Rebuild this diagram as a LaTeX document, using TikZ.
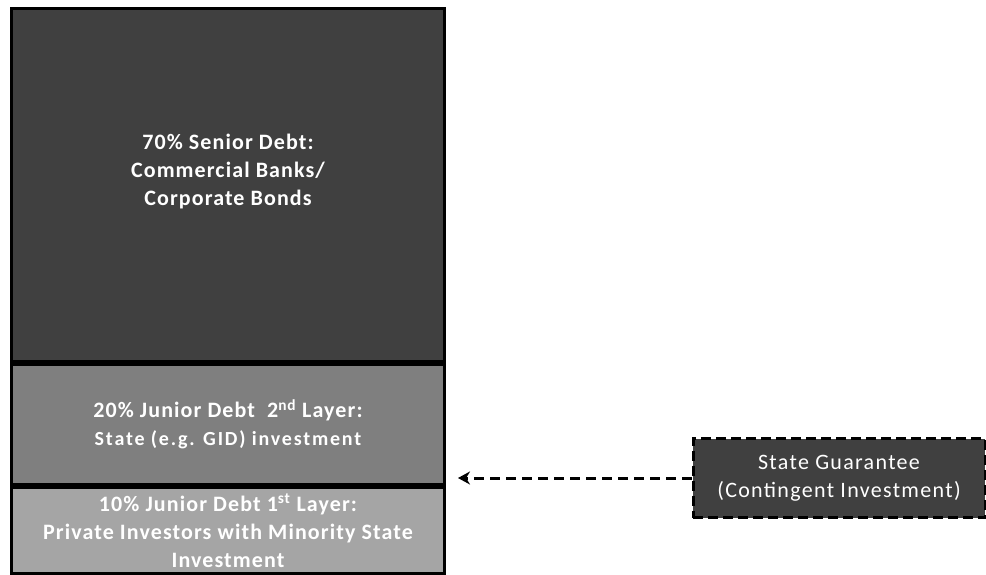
\documentclass[tikz,border=0pt]{standalone}
\usepackage{fontspec}
\setmainfont{Carlito}
\usepackage{tikz}
\usetikzlibrary{positioning,arrows.meta}
\usepackage{xcolor}
\definecolor{seniorgray}{HTML}{404040}
\definecolor{jtwogray}{HTML}{7F7F7F}
\definecolor{jonegray}{HTML}{A5A5A5}

\begin{document}
\begin{tikzpicture}[
    x=1pt,y=-1pt,
    layer/.style={draw=black,line width=3pt,minimum width=433pt,align=center,text=white,inner sep=0pt,
      font=\fontsize{22}{28}\selectfont\bfseries\addfontfeature{LetterSpace=5}},
    guar/.style={draw=black,line width=3pt,dash pattern=on 10pt off 5pt,fill=seniorgray,text=white,
      minimum width=292pt,minimum height=79pt,align=center,
      font=\fontsize{22}{28}\selectfont\addfontfeature{LetterSpace=6}},
    arr/.style={-{Stealth[length=12pt,width=13pt]},line width=3pt,dash pattern=on 10pt off 6pt},
  ]
    \useasboundingbox (0,0) rectangle (986,574);
    \node[layer, fill=seniorgray, minimum height=353pt, anchor=north west] (senior) at (10,7)
      {70\% Senior Debt:\\Commercial Banks/\\Corporate Bonds\\[2pt]};
    \node[layer, fill=jtwogray, minimum height=120pt, below=0pt of senior] (jtwo)
      {20\% Junior Debt\ \ 2\textsuperscript{nd} Layer:\\{\fontsize{20}{28}\selectfont\addfontfeature{LetterSpace=9}State (e.g. GID) investment}};
    \node[layer, fill=jonegray, minimum height=86pt, below=0pt of jtwo] (jone)
      {10\% Junior Debt 1\textsuperscript{st} Layer:\\Private Investors with Minority State\\Investment};
    \node[guar] (guar) at (839,478) {State Guarantee\\(Contingent Investment)};

    \draw[arr] (guar.west) -- ([xshift=12pt]guar.west -| jtwo.east);
  \end{tikzpicture}
\end{document}
